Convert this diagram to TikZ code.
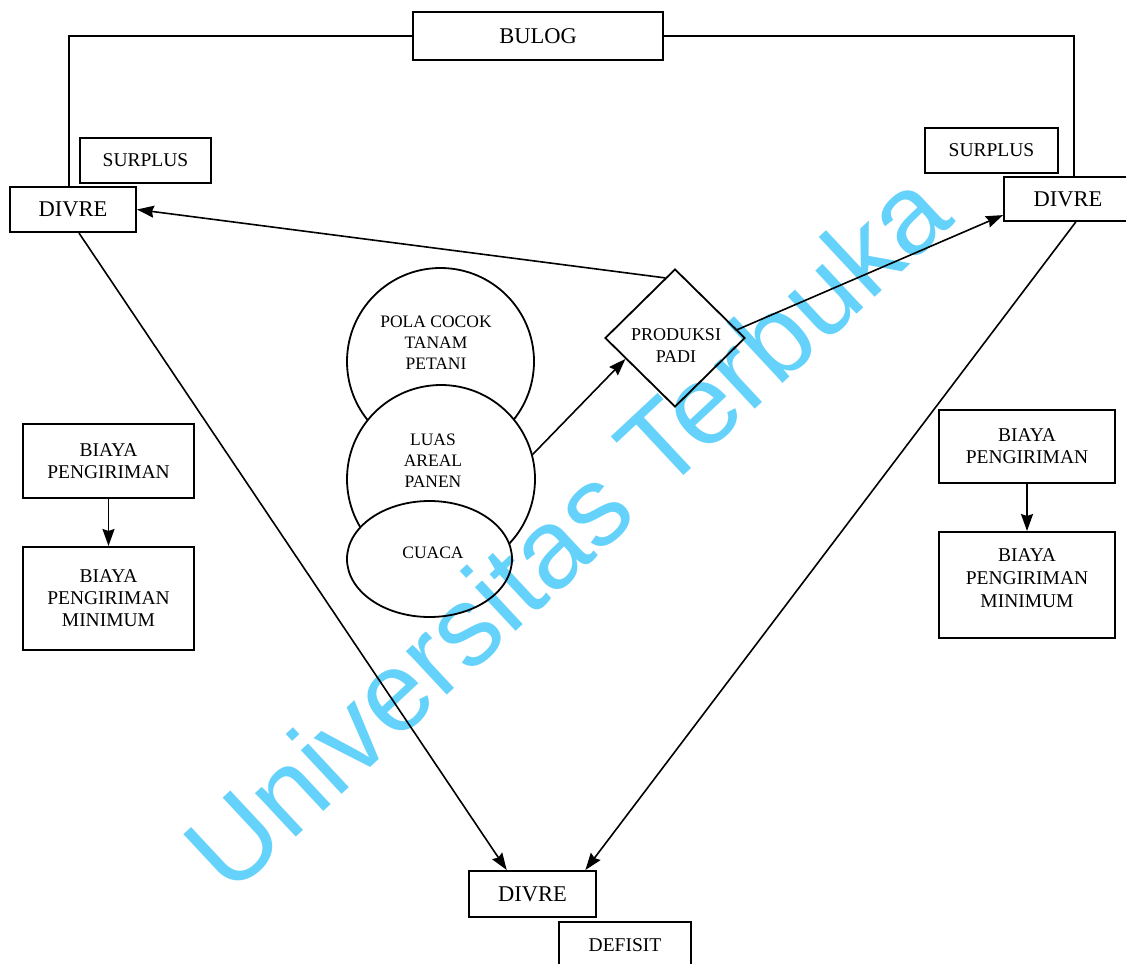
\documentclass[tikz,border=0pt]{standalone}
\usepackage{fontspec}
\setmainfont{Liberation Serif}
\newfontfamily\wmfont{Liberation Sans}
\usetikzlibrary{shapes.geometric,arrows.meta,calc}
\definecolor{wmcyan}{RGB}{100,210,250}
\tikzset{
  box/.style={draw, line width=2pt, inner sep=0pt, align=center, fill=white},
  bigtxt/.style={font=\fontsize{22.5}{24}\selectfont},
  midtxt/.style={font=\fontsize{19.5}{22}\selectfont},
  smalltxt/.style={font=\fontsize{17.5}{21}\selectfont, align=center, inner sep=0pt},
  blob/.style={draw, line width=1.8pt, fill=white, inner sep=0pt},
  conn/.style={line width=1.8pt},
  arr/.style={line width=1.6pt, -{Stealth[length=17pt,width=12pt,inset=2pt]}},
}
\begin{document}
\begin{tikzpicture}[x=1pt,y=-1pt]
\useasboundingbox (0,0) rectangle (1126,963);
\clip (0,0) rectangle (1126,963);
\fill[white] (0,0) rectangle (1126,963);

% boxes
\node[box, bigtxt, minimum width=250pt, minimum height=48pt] (bulog) at (538,36) {BULOG};
\node[box, midtxt, minimum width=131pt, minimum height=45pt] (lsur) at (145.5,160.5) {SURPLUS};
\node[box, bigtxt, minimum width=126pt, minimum height=45pt] (ldiv) at (73,209.5) {DIVRE};
\node[box, midtxt, minimum width=133pt, minimum height=45pt] (rsur) at (991.5,150.5) {SURPLUS};
\node[box, bigtxt, minimum width=128pt, minimum height=44pt] (rdiv) at (1068,199) {DIVRE};
\node[box, bigtxt, minimum width=127pt, minimum height=46pt] (bdiv) at (532.5,894) {DIVRE};
\node[box, midtxt, minimum width=132pt, minimum height=46pt] (def) at (625,945) {DEFISIT};

\node[box, midtxt, minimum width=171pt, minimum height=74pt] (lbiaya) at (108.5,461) {BIAYA\\PENGIRIMAN};
\node[box, midtxt, minimum width=171pt, minimum height=103pt] (lmin) at (108.5,598.5) {BIAYA\\PENGIRIMAN\\MINIMUM};
\node[box, midtxt, minimum width=176pt, minimum height=73pt] (rbiaya) at (1027,446.5) {BIAYA\\PENGIRIMAN};
\node[box, midtxt, minimum width=176pt, minimum height=106pt] (rmin) at (1027,585) {};
\node[smalltxt, font=\fontsize{19.5}{23}\selectfont] (rmint) at (1027,578) {BIAYA\\PENGIRIMAN\\MINIMUM};

% circles
\node[blob, circle, minimum size=187pt] (pola) at (440.5,361.5) {};
\node[blob, circle, minimum size=188pt] (luas) at (441,479) {};
\node[blob, ellipse, minimum width=165pt, minimum height=116pt] (cuaca) at (429.5,559) {};
\node[smalltxt] (polat) at (436,343) {POLA COCOK\\TANAM\\PETANI};
\node[smalltxt] (luast) at (433,461) {LUAS\\AREAL\\PANEN};
\node[smalltxt] (cuacat) at (433,553) {CUACA};

% diamond
\node[blob, diamond, minimum width=140pt, minimum height=138pt, fill=none] (dia) at (675,338) {};
\node[smalltxt, font=\fontsize{18}{22}\selectfont] (diat) at (676,346) {PRODUKSI\\PADI};

% connectors
\coordinate (lc) at (69,36);
\coordinate (rc) at (1074,36);
\draw[conn] (bulog.west) -- (lc) -- (lc |- ldiv.north);
\draw[conn] (bulog.east) -- (rc) -- (rc |- rdiv.north);

\draw[arr] ($(dia.north)!0.14!(dia.west)$) -- (ldiv.east);
\draw[arr] ($(dia.east)!0.12!(dia.north)$) -- ($(rdiv.west)!0.7!(rdiv.south west)$);
\draw[arr] (luas.15) -- ($(dia.west)!0.3!(dia.south)$);

\draw[arr] ($(ldiv.south)+(6,0)$) -- ($(bdiv.north west)!0.3!(bdiv.north east)$);
\draw[arr] ($(rdiv.south west)!0.56!(rdiv.south east)$) -- ($(bdiv.north west)!0.91!(bdiv.north east)$);

\draw[arr] (lbiaya.south) -- (lmin.north);
\draw[arr] (rbiaya.south) -- (rmin.north);

% watermark
\begin{scope}[blend mode=multiply]
\node[text=wmcyan, font=\wmfont\fontsize{113}{118}\selectfont, rotate=43, inner sep=0pt] (wm) at (566,530) {Universitas Terbuka};
\end{scope}
\end{tikzpicture}
\end{document}
